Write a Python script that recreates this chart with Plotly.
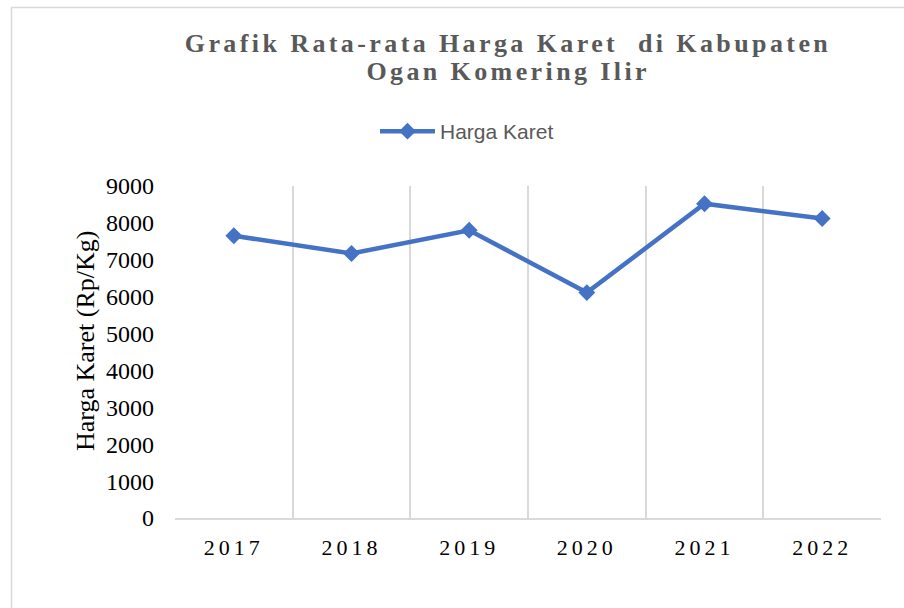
import plotly.graph_objects as go

years = ["2017", "2018", "2019", "2020", "2021", "2022"]
harga_karet = [7650, 7170, 7800, 6110, 8520, 8120]
y_ticks = [0, 1000, 2000, 3000, 4000, 5000, 6000, 7000, 8000, 9000]
title_line1 = "Grafik Rata-rata Harga Karet\u00a0 di Kabupaten"
title_line2 = "Ogan Komering Ilir"

W, H = 904, 608
ML, MR, MT, MB = 175, 23, 186, 90
PW = W - ML - MR
PH = H - MT - MB

def px_x(px):
    return (px - ML) / PW

def px_y(py):
    return (H - MB - py) / PH

fig = go.Figure()
fig.add_trace(go.Scatter(
    x=years, y=harga_karet, name="Harga Karet", mode="lines+markers",
    line=dict(color="#4472C4", width=4.5),
    marker=dict(symbol="diamond", size=13, color="#4472C4"),
))

title_font = dict(family="Liberation Serif", size=26, color="#595959", weight="bold")

fig.update_layout(
    width=W, height=H,
    margin=dict(l=ML, r=MR, t=MT, b=MB),
    paper_bgcolor="white", plot_bgcolor="white",
    title=dict(
        text=title_line1, font=title_font,
        x=508 / W, xanchor="center", xref="container",
        y=1 - 43 / H, yanchor="middle", yref="container",
    ),
    showlegend=True,
    legend=dict(
        orientation="h", x=px_x(400), xanchor="left", y=px_y(111), yanchor="top",
        font=dict(family="Liberation Sans", size=21, color="#595959"),
        bgcolor="rgba(0,0,0,0)",
    ),
    xaxis=dict(
        type="category", range=[-0.5, 5.5], tickson="boundaries",
        showgrid=True, gridcolor="#D9D9D9", gridwidth=1.5,
        showline=True, linecolor="#D9D9D9", linewidth=1.5,
        ticks="", ticklabelstandoff=9,
        tickfont=dict(family="Liberation Serif", size=22, color="#000000"),
        zeroline=False,
    ),
    yaxis=dict(
        range=[0, 9000], tickvals=y_ticks, ticktext=[str(v) for v in y_ticks],
        showgrid=False, showline=False, zeroline=False, ticks="",
        ticklabelstandoff=20,
        tickfont=dict(family="Liberation Serif", size=24, color="#000000"),
    ),
    annotations=[
        dict(
            text=title_line2, showarrow=False,
            xref="paper", yref="paper", x=px_x(508), y=px_y(72),
            xanchor="center", yanchor="middle", font=title_font,
        ),
        dict(
            text="Harga Karet (Rp/Kg)", textangle=-90, showarrow=False,
            xref="paper", yref="paper", x=px_x(85), y=px_y(341),
            xanchor="center", yanchor="middle",
            font=dict(family="Liberation Serif", size=26, color="#000000"),
        ),
    ],
    shapes=[dict(
        type="rect", xref="paper", yref="paper",
        x0=px_x(11.5), x1=1.3, y0=-0.6, y1=px_y(7.5),
        line=dict(color="#D9D9D9", width=1.5), fillcolor="rgba(0,0,0,0)",
        layer="below",
    )],
)

post = """
document.body.style.margin = '0';
var gd = document.getElementById('{plot_id}');
function applyStyle(){
  gd.querySelectorAll('.gtitle').forEach(function(e){ e.style.letterSpacing = '3.4px'; });
  var ann = gd.querySelectorAll('.annotation-text');
  if (ann.length) { ann[0].style.letterSpacing = '3.4px'; }
  gd.querySelectorAll('.xtick text').forEach(function(e){ e.style.letterSpacing = '4px'; });
  gd.querySelectorAll('.legend .scrollbox').forEach(function(e){ e.removeAttribute('clip-path'); });
  gd.querySelectorAll('.legend').forEach(function(e){ e.style.overflow = 'visible'; });
  gd.querySelectorAll('.legendlines path').forEach(function(e){ e.setAttribute('d', 'M-20,0h55'); });
  gd.querySelectorAll('.legendpoints path').forEach(function(e){ e.setAttribute('transform', 'translate(7.5,0)'); });
}
applyStyle();
if (gd.on) { gd.on('plotly_afterplot', applyStyle); }
"""

fig.write_html("out.html", post_script=post, config={"displayModeBar": False})
